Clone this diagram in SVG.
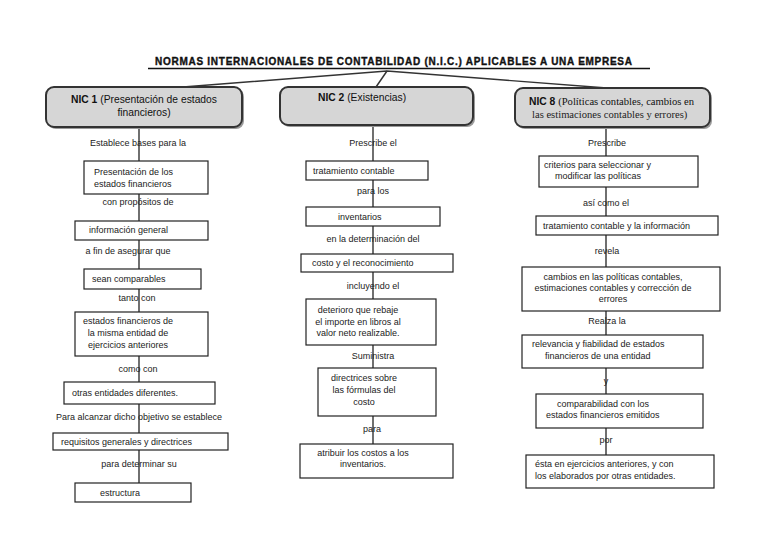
<svg xmlns="http://www.w3.org/2000/svg" width="768" height="543" viewBox="0 0 768 543">
<style>
text{font-family:"Liberation Sans",Arial,sans-serif;font-size:9px;fill:#222}
.t{font-weight:bold;font-size:10px;fill:#111;stroke:#111;stroke-width:0.35}
.nic{fill:#d6d6d6;stroke:#333;stroke-width:2}
.sh{fill:#9a9a9a}
.nt{font-size:10.3px;fill:#111}
.b{font-weight:bold}
.serif{font-family:"Liberation Serif","Times New Roman",serif;font-size:10.6px}
.box{fill:#fff;stroke:#222;stroke-width:1.2}
.ln{stroke:#333;stroke-width:1.4;fill:none}
.m{text-anchor:middle}
</style>
<rect width="768" height="543" fill="#fff"/>
<g id="title">
<text class="t" x="155" y="65" textLength="477" lengthAdjust="spacing">NORMAS INTERNACIONALES DE CONTABILIDAD (N.I.C.) APLICABLES A UNA EMPRESA</text>
<line x1="148" y1="68.5" x2="650" y2="68.5" stroke="#111" stroke-width="1.6"/>
</g>
<g id="connectors">
<polyline class="ln" points="183,87 387,71 607,88"/>
<line class="ln" x1="387" y1="71" x2="376" y2="87"/>
<line class="ln" x1="139" y1="127" x2="139" y2="483"/>
<line class="ln" x1="373" y1="125" x2="373" y2="444"/>
<line class="ln" x1="606" y1="127" x2="606" y2="455"/>
</g>
<g id="nic1">
<rect class="sh" x="48" y="89" width="196" height="40" rx="8"/>
<rect class="nic" x="46" y="87" width="196" height="40" rx="8"/>
<text class="nt m" x="144" y="103"><tspan class="b">NIC 1</tspan> (Presentación de estados</text>
<text class="nt m" x="144" y="116">financieros)</text>
</g>
<g id="nic2">
<rect class="sh" x="282" y="89" width="193" height="38" rx="8"/>
<rect class="nic" x="280" y="87" width="193" height="38" rx="8"/>
<text class="nt" x="318" y="101"><tspan class="b">NIC 2</tspan> (Existencias)</text>
</g>
<g id="nic8">
<rect class="sh" x="517" y="90" width="195" height="39" rx="8"/>
<rect class="nic" x="515" y="88" width="195" height="39" rx="8"/>
<text class="nt" x="529" y="105"><tspan class="b">NIC 8</tspan> <tspan class="serif">(Políticas contables, cambios en</tspan></text>
<text class="serif" x="532" y="118">las estimaciones contables y errores)</text>
</g>
<!-- column 1 -->
<g id="l1a"><text class="m" x="138" y="146">Establece bases para la</text></g>
<g id="n1a"><rect class="box" x="84" y="161" width="124" height="33"/>
<text x="94" y="175">Presentación de los</text><text x="94" y="187">estados financieros</text></g>
<g id="l1b"><text class="m" x="138" y="205">con propósitos de</text></g>
<g id="n1b"><rect class="box" x="75" y="221" width="133" height="19"/><text x="89" y="233">información general</text></g>
<g id="l1c"><text class="m" x="128" y="254">a fin de asegurar que</text></g>
<g id="n1c"><rect class="box" x="84" y="269" width="117" height="20"/><text x="92" y="282">sean comparables</text></g>
<g id="l1d"><text class="m" x="137" y="301">tanto con</text></g>
<g id="n1d"><rect class="box" x="75" y="312" width="133" height="44"/>
<text class="m" x="128" y="324">estados financieros de</text><text class="m" x="128" y="336">la misma entidad de</text><text class="m" x="128" y="348">ejercicios anteriores</text></g>
<g id="l1e"><text class="m" x="138" y="372">como con</text></g>
<g id="n1e"><rect class="box" x="64" y="382" width="151" height="22"/><text x="72" y="396">otras entidades diferentes.</text></g>
<g id="l1f"><text class="m" x="139" y="420">Para alcanzar dicho objetivo se establece</text></g>
<g id="n1f"><rect class="box" x="53" y="433" width="175" height="17"/><text x="61" y="445">requisitos generales y directrices</text></g>
<g id="l1g"><text class="m" x="139" y="467">para determinar su</text></g>
<g id="n1g"><rect class="box" x="75" y="483" width="116" height="19"/><text x="100" y="496">estructura</text></g>
<!-- column 2 -->
<g id="l2a"><text class="m" x="373" y="146">Prescribe el</text></g>
<g id="n2a"><rect class="box" x="306" y="161" width="122" height="19"/><text x="313" y="174">tratamiento contable</text></g>
<g id="l2b"><text class="m" x="373" y="194">para los</text></g>
<g id="n2b"><rect class="box" x="306" y="207" width="134" height="19"/><text x="338" y="220">inventarios</text></g>
<g id="l2c"><text class="m" x="373" y="242">en la determinación del</text></g>
<g id="n2c"><rect class="box" x="301" y="254" width="152" height="18"/><text x="312" y="266">costo y el reconocimiento</text></g>
<g id="l2d"><text class="m" x="373" y="289">incluyendo el</text></g>
<g id="n2d"><rect class="box" x="306" y="299" width="130" height="46"/>
<text class="m" x="358" y="313">deterioro que rebaje</text><text class="m" x="358" y="325">el importe en libros al</text><text class="m" x="358" y="336">valor neto realizable.</text></g>
<g id="l2e"><text class="m" x="373" y="359">Suministra</text></g>
<g id="n2e"><rect class="box" x="318" y="368" width="118" height="48"/>
<text class="m" x="364" y="381">directrices sobre</text><text class="m" x="364" y="393">las fórmulas del</text><text class="m" x="364" y="405">costo</text></g>
<g id="l2f"><text class="m" x="372" y="432">para</text></g>
<g id="n2f"><rect class="box" x="300" y="444" width="153" height="34"/>
<text class="m" x="363" y="456">atribuir los costos a los</text><text class="m" x="363" y="467">inventarios.</text></g>
<!-- column 3 -->
<g id="l3a"><text class="m" x="607" y="146">Prescribe</text></g>
<g id="n3a"><rect class="box" x="539" y="156" width="159" height="31"/>
<text x="544" y="168">criterios para seleccionar y</text><text x="555" y="179">modificar las políticas</text></g>
<g id="l3b"><text class="m" x="606" y="206">así como el</text></g>
<g id="n3b"><rect class="box" x="536" y="216" width="182" height="19"/><text x="543" y="229">tratamiento contable y la información</text></g>
<g id="l3c"><text class="m" x="607" y="254">revela</text></g>
<g id="n3c"><rect class="box" x="522" y="267" width="198" height="44"/>
<text class="m" x="613" y="280">cambios en las políticas contables,</text><text class="m" x="613" y="291">estimaciones contables y corrección de</text><text class="m" x="613" y="302">errores</text></g>
<g id="l3d"><text class="m" x="607" y="324">Realza  la</text></g>
<g id="n3d"><rect class="box" x="522" y="335" width="181" height="33"/>
<text x="532" y="347">relevancia y fiabilidad de estados</text><text x="545" y="359">financieros de una entidad</text></g>
<g id="l3e"><text class="m" x="606" y="384">y</text></g>
<g id="n3e"><rect class="box" x="536" y="394" width="167" height="34"/>
<text x="557" y="407">comparabilidad con los</text><text x="546" y="418">estados financieros emitidos</text></g>
<g id="l3f"><text class="m" x="606" y="443">por</text></g>
<g id="n3f"><rect class="box" x="526" y="455" width="188" height="33"/>
<text x="535" y="467">ésta en ejercicios anteriores, y con</text><text x="535" y="479">los elaborados por otras entidades.</text></g>
</svg>
